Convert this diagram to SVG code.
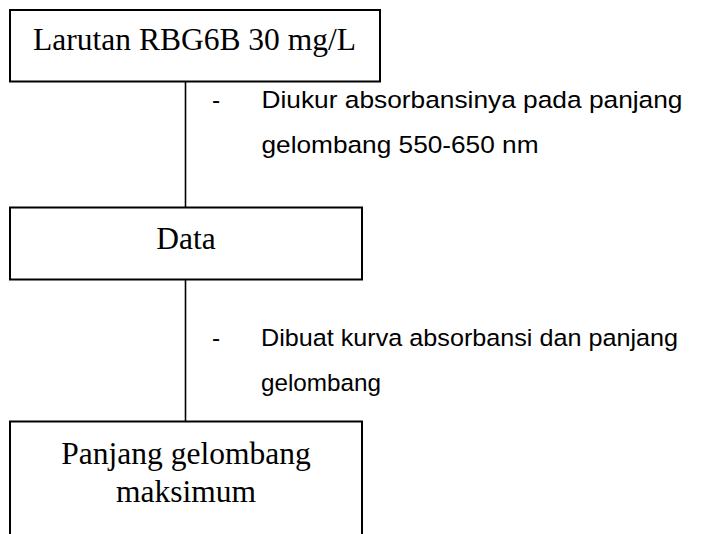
<svg xmlns="http://www.w3.org/2000/svg" width="705" height="534" viewBox="0 0 705 534">
  <style>
    .box { fill: #ffffff; stroke: #000000; stroke-width: 2; }
    .link { stroke: #000000; stroke-width: 1.6; fill: none; }
    .title { font-family: "Liberation Serif", "Times New Roman", serif; font-size: 31.5px; fill: #000000; text-anchor: middle; }
    .note { font-family: "Liberation Sans", Arial, sans-serif; font-size: 24.5px; fill: #000000; }
  </style>
  <rect width="705" height="534" fill="#ffffff"/>

  <!-- vertical connectors between the steps -->
  <g id="connectors">
    <line class="link" x1="185.5" y1="82" x2="185.5" y2="207"/>
    <line class="link" x1="185.5" y1="280" x2="185.5" y2="422"/>
  </g>

  <!-- step 1: solution -->
  <g id="node-larutan">
    <rect class="box" x="10" y="10" width="370" height="71.5"/>
    <text class="title" x="194.5" y="50">Larutan RBG6B 30 mg/L</text>
  </g>

  <!-- treatment note between step 1 and step 2 -->
  <g id="note-diukur">
    <text class="note" x="212" y="108">-</text>
    <text class="note" x="261.5" y="108" textLength="421" lengthAdjust="spacingAndGlyphs">Diukur absorbansinya pada panjang</text>
    <text class="note" x="261.5" y="153" textLength="277" lengthAdjust="spacingAndGlyphs">gelombang 550-650 nm</text>
  </g>

  <!-- step 2: data -->
  <g id="node-data">
    <rect class="box" x="10" y="207.5" width="352" height="72"/>
    <text class="title" x="186" y="249">Data</text>
  </g>

  <!-- treatment note between step 2 and step 3 -->
  <g id="note-dibuat">
    <text class="note" x="212" y="345.5">-</text>
    <text class="note" x="261" y="345.5" textLength="417" lengthAdjust="spacingAndGlyphs">Dibuat kurva absorbansi dan panjang</text>
    <text class="note" x="261" y="390.5" textLength="120" lengthAdjust="spacingAndGlyphs">gelombang</text>
  </g>

  <!-- step 3: result -->
  <g id="node-panjang">
    <rect class="box" x="10" y="421.5" width="352" height="130"/>
    <text class="title" x="186" y="464">Panjang gelombang</text>
    <text class="title" x="186" y="502">maksimum</text>
  </g>
</svg>
